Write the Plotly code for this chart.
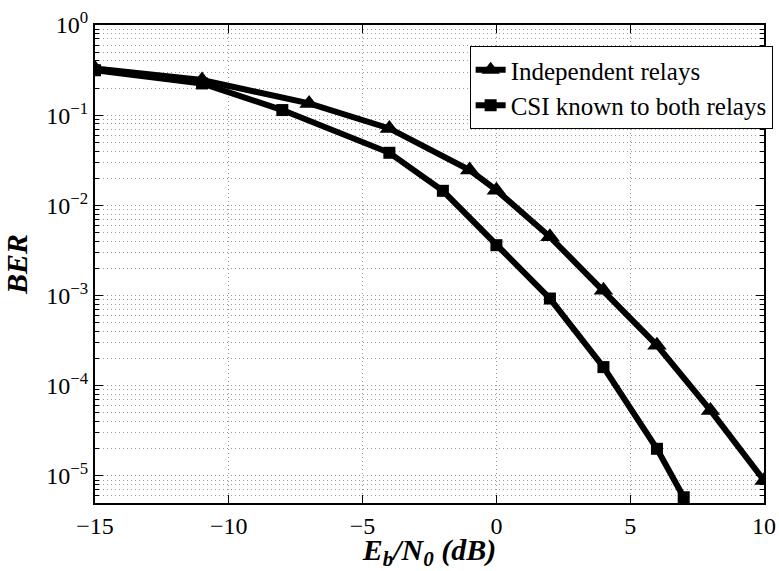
import plotly.graph_objects as go

# Data
x_indep = [-15, -11, -7, -4, -1, 0, 2, 4, 6, 8, 10]
ber_indep = [0.33, 0.245, 0.135, 0.0713, 0.0246, 0.01475, 0.00448, 0.001145, 2.81e-4, 5.33e-5, 8.9e-6]

x_csi = [-15, -11, -8, -4, -2, 0, 2, 4, 6, 7]
ber_csi = [0.315, 0.225, 0.114, 0.0383, 0.0145, 0.00362, 9.27e-4, 1.61e-4, 2.0e-5, 5.8e-6]

name_indep = "Independent relays"
name_csi = "CSI known to both relays"

x_ticks = [-15, -10, -5, 0, 5, 10]
x_ticktext = ["\u221215", "\u221210", "\u22125", "0", "5", "10"]
y_exps = [0, -1, -2, -3, -4, -5]

FONT = "Liberation Serif"

fig = go.Figure()
fig.add_trace(go.Scatter(
    x=x_indep, y=ber_indep, name=name_indep, mode="lines+markers",
    line=dict(color="black", width=6),
    marker=dict(symbol="triangle-up", size=17, color="black"),
))
fig.add_trace(go.Scatter(
    x=x_csi, y=ber_csi, name=name_csi, mode="lines+markers",
    line=dict(color="black", width=6),
    marker=dict(symbol="square", size=12, color="black"),
))

y_tickvals = [10.0 ** e for e in y_exps]
y_ticktext = ["10<sup>" + ("\u2212" + str(-e) if e < 0 else str(e)) + "</sup>" for e in y_exps]
minor_vals = [m * 10.0 ** e for e in range(-6, 0) for m in range(2, 10)]

GRIDC = "#999999"
GDASH = "1px,3px"

fig.update_layout(
    width=779, height=571,
    margin=dict(l=95, r=15, t=25, b=68, autoexpand=False),
    paper_bgcolor="white", plot_bgcolor="white",
    font=dict(family=FONT, size=24, color="black"),
    showlegend=True,
    legend=dict(
        x=0.56, y=0.956, xanchor="left", yanchor="top",
        bgcolor="white", bordercolor="black", borderwidth=1,
        font=dict(family=FONT, size=25, color="black"),
        itemwidth=30, tracegroupgap=0,
    ),
    xaxis=dict(
        range=[-15, 10], tickmode="array", tickvals=x_ticks, ticktext=x_ticktext,
        tickfont=dict(family=FONT, size=24, color="black"),
        ticks="inside", ticklen=8, tickcolor="black", tickwidth=1,
        showline=True, linecolor="black", linewidth=2, mirror="ticks",
        zeroline=False, showgrid=True, gridcolor=GRIDC, griddash=GDASH, gridwidth=1,
        title=dict(text="<b><i>E<sub>b</sub>/N<sub>0</sub> (dB)</i></b>",
                   font=dict(family=FONT, size=30), standoff=5),
    ),
    yaxis=dict(
        type="log", range=[-5.3, 0],
        tickmode="array", tickvals=y_tickvals, ticktext=y_ticktext,
        tickfont=dict(family=FONT, size=24, color="black"),
        ticks="inside", ticklen=8, tickcolor="black", tickwidth=1,
        showline=True, linecolor="black", linewidth=2, mirror="ticks",
        zeroline=False, showgrid=True, gridcolor=GRIDC, griddash=GDASH, gridwidth=1,
        minor=dict(tickvals=minor_vals, ticks="inside", ticklen=4, tickcolor="black",
                   showgrid=True, gridcolor=GRIDC, griddash=GDASH, gridwidth=1),
        title=dict(text="<b><i>BER</i></b>", font=dict(family=FONT, size=30), standoff=12),
    ),
)

fig.write_html("out.html")
